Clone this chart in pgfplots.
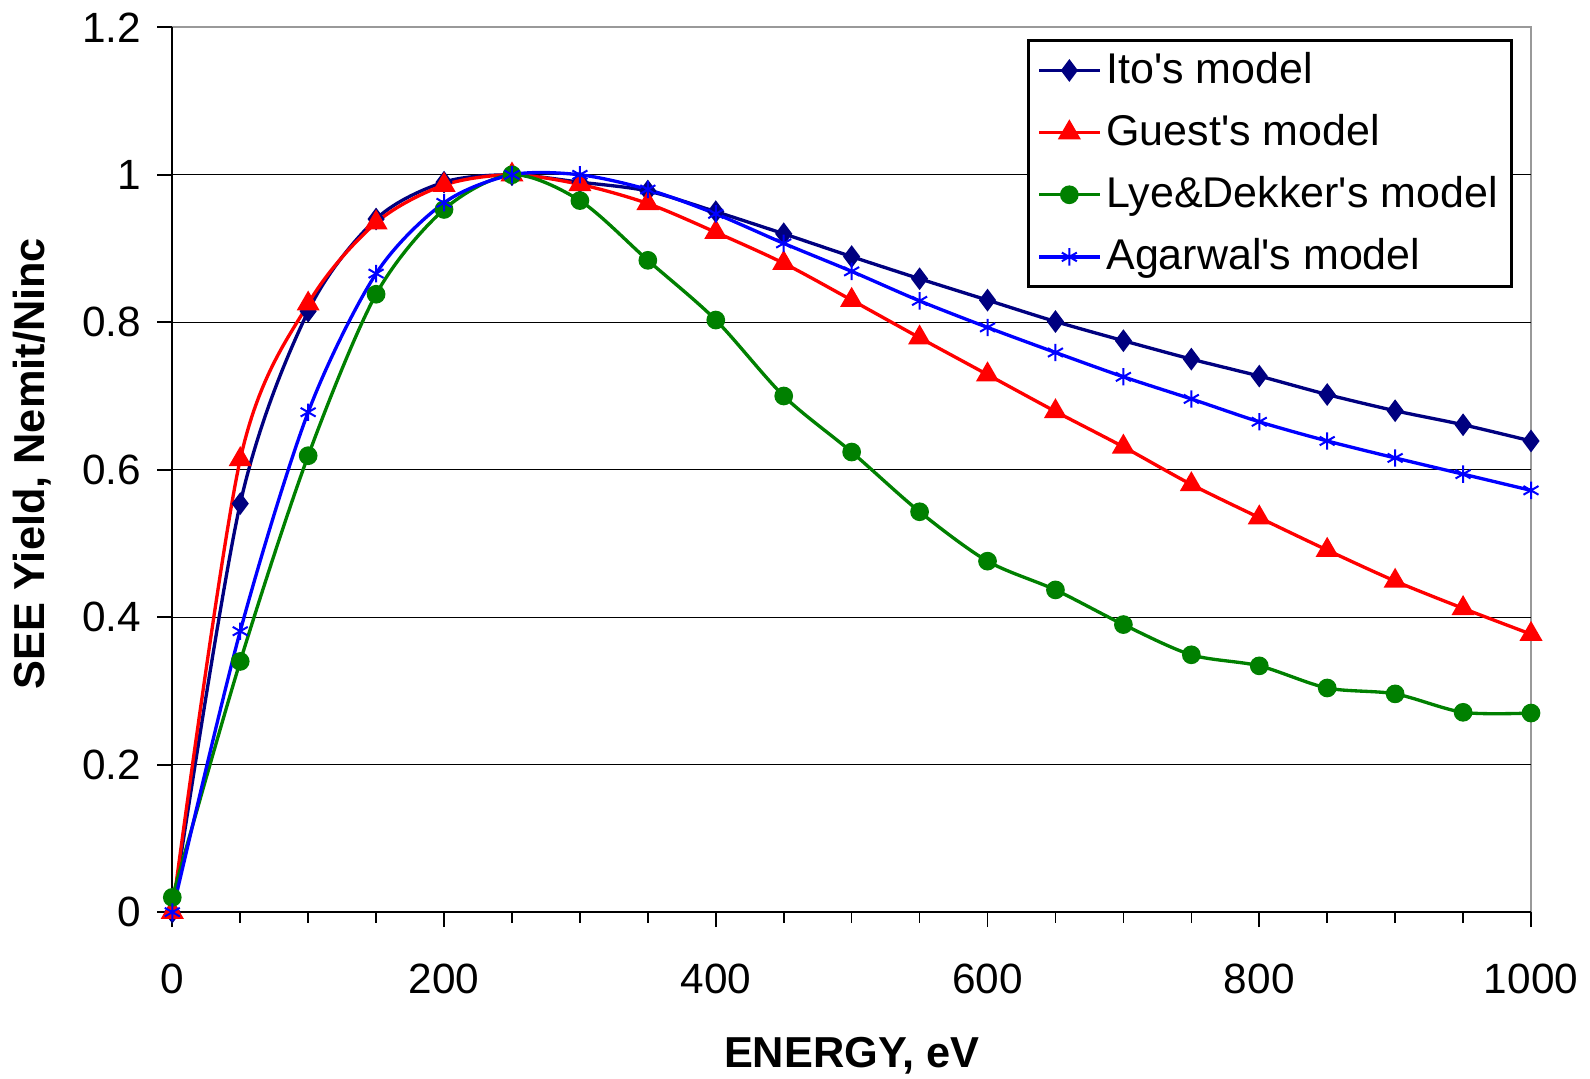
\documentclass[border=0pt]{standalone}
\usepackage{pgfplots}
\pgfplotsset{compat=1.18}
\usepackage{fontspec}
\setmainfont{Liberation Sans}
\definecolor{itonavy}{RGB}{0,0,128}
\definecolor{guestred}{RGB}{255,0,0}
\definecolor{lyegreen}{RGB}{0,128,0}
\definecolor{agablue}{RGB}{0,0,255}
\begin{document}
\begin{tikzpicture}
\begin{axis}[
  scale only axis,
  width=407.7pt, height=265.5pt,
  xmin=0, xmax=1000, ymin=0, ymax=1.2,
  enlargelimits=false,
  clip=false,
  axis x line*=bottom, axis y line*=left,
  axis line style={-, black, line width=0.6pt},
  axis background/.style={draw=gray!80, line width=0.6pt},
  xtick={0,200,400,600,800,1000},
  minor x tick num=3,
  ytick={0,0.2,0.4,0.6,0.8,1},
  extra y ticks={1.2},
  extra y tick style={grid=none},
  ymajorgrids,
  major grid style={black, line width=0.4pt},
  tick align=outside,
  major tick length=4.5pt,
  minor tick length=3.2pt,
  every tick/.style={black, line width=0.5pt},
  /pgf/number format/assume math mode=true,
  /pgf/number format/1000 sep={},
  tick label style={font=\fontsize{12.7}{14}\selectfont},
  xticklabel style={yshift=-7.5pt},
  yticklabel style={xshift=-1.3pt},
  xlabel={\textbf{ENERGY, eV}},
  ylabel={\textbf{SEE Yield, Nemit/Ninc}},
  every axis x label/.style={at={(axis description cs:0.5,-0.1627)}, anchor=center,
    font=\fontsize{13}{15}\selectfont},
  every axis y label/.style={at={(axis description cs:-0.103,0.507)}, anchor=center, rotate=90,
    font=\fontsize{13}{15}\selectfont},
  legend style={at={(rel axis cs:0.9865,0.9886)}, anchor=north east, yshift=-0.6pt,
    draw=black, line width=0.8pt, fill=white,
    font=\fontsize{12.9}{15.5}\selectfont,
    nodes={inner xsep=1.5pt},
    inner xsep=2.6pt, inner ysep=1.5pt, row sep=3.8pt},
  legend image code/.code={\draw[mark repeat=2, mark phase=2] plot coordinates {(0cm,0cm)(0.32cm,0cm)(0.64cm,0cm)};},
  legend cell align=left,
  every axis plot/.append style={line width=1pt},
]
\addplot[color=itonavy, smooth, mark=diamond*, mark size=2.6pt, mark options={fill=itonavy}]
coordinates {(0,0) (50,0.554) (100,0.815) (150,0.940) (200,0.990) (250,1.000) (300,0.990)
 (350,0.978) (400,0.950) (450,0.920) (500,0.889) (550,0.859) (600,0.830) (650,0.801)
 (700,0.775) (750,0.750) (800,0.727) (850,0.702) (900,0.680) (950,0.661) (1000,0.639)};
\addlegendentry{Ito\textquotesingle s model}
\addplot[color=guestred, smooth, mark=triangle*, mark size=3pt, mark options={fill=guestred}]
coordinates {(0,0) (50,0.614) (100,0.825) (150,0.935) (200,0.986) (250,1.000) (300,0.987)
 (350,0.961) (400,0.922) (450,0.880) (500,0.830) (550,0.779) (600,0.729) (650,0.679)
 (700,0.631) (750,0.580) (800,0.535) (850,0.491) (900,0.449) (950,0.412) (1000,0.377)};
\addlegendentry{Guest\textquotesingle s model}
\addplot[color=lyegreen, smooth, mark=*, mark size=2.3pt, mark options={fill=lyegreen}]
coordinates {(0,0.02) (50,0.340) (100,0.619) (150,0.838) (200,0.953) (250,1.000) (300,0.965)
 (350,0.884) (400,0.803) (450,0.700) (500,0.624) (550,0.543) (600,0.476) (650,0.437)
 (700,0.390) (750,0.349) (800,0.334) (850,0.304) (900,0.296) (950,0.271) (1000,0.270)};
\addlegendentry{Lye\&Dekker\textquotesingle s model}
\addplot[color=agablue, smooth, mark=asterisk, mark size=2.6pt, mark options={line width=0.6pt}]
coordinates {(0,0) (50,0.381) (100,0.678) (150,0.866) (200,0.962) (250,1.000) (300,1.000)
 (350,0.980) (400,0.947) (450,0.907) (500,0.869) (550,0.829) (600,0.793) (650,0.759)
 (700,0.726) (750,0.696) (800,0.665) (850,0.639) (900,0.616) (950,0.594) (1000,0.572)};
\addlegendentry{Agarwal\textquotesingle s model}
\end{axis}
\pgfresetboundingbox
\path ([shift={(-51.7pt,-50pt)}]current axis.south west) rectangle ([shift={(17.7pt,8.2pt)}]current axis.north east);
\end{tikzpicture}
\end{document}
